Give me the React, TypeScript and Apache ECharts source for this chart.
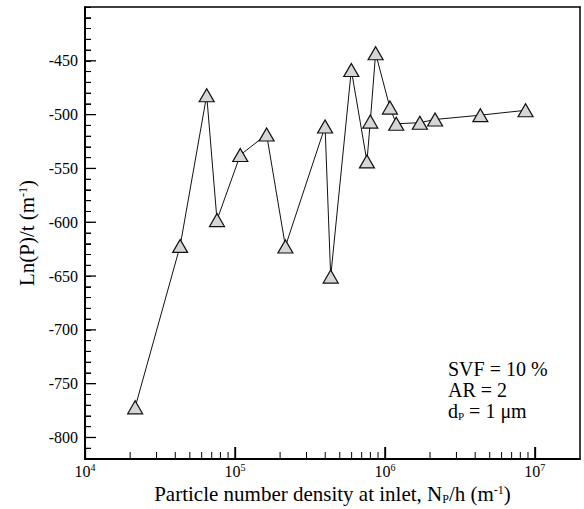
import React, { useEffect, useRef } from "react";
import * as echarts from "echarts";

const xValues = [2.16e4, 4.31e4, 6.48e4, 7.59e4, 1.085e5, 1.626e5, 2.17e5, 3.99e5, 4.35e5, 5.97e5, 7.59e5, 7.99e5, 8.67e5, 1.08e6, 1.19e6, 1.71e6, 2.16e6, 4.33e6, 8.67e6];
const yValues = [-772, -622, -482, -598, -537.5, -518.5, -622.5, -511, -650.5, -458.5, -543.5, -506.5, -443, -493.5, -508.5, -507.5, -504.5, -500.5, -496];
const yMajorTicks = [-800, -750, -700, -650, -600, -550, -500, -450];
const yMinorTicks = [-810, -790, -780, -770, -760, -740, -730, -720, -710, -690, -680, -670, -660, -640, -630, -620, -610, -590, -580, -570, -560, -540, -530, -520, -510, -490, -480, -470, -460, -440, -430, -420, -410];
const xMajorTicks = [1e4, 1e5, 1e6, 1e7];
const xMinorTicks = [2e4, 3e4, 4e4, 5e4, 6e4, 7e4, 8e4, 9e4, 2e5, 3e5, 4e5, 5e5, 6e5, 7e5, 8e5, 9e5, 2e6, 3e6, 4e6, 5e6, 6e6, 7e6, 8e6, 9e6];
const annotationText = "SVF = 10 %\nAR = 2\nd{sub|P} = 1 μm";
const xTitle = "Particle number density at inlet, N{sub|P}/h (m{sup|-1})";
const yTitle = "Ln(P)/t (m{sup|-1})";

const X_MIN = 1e4;
const X_MAX = 2e7;
const Y_MIN = -820;
const Y_MAX = -400;
const GRID_LEFT = 85;
const GRID_TOP = 7;
const GRID_W = 495;
const GRID_H = 452;
const FONT = "Liberation Serif";

// tick lengths in pixels, converted to data units of the fixed axes
const yUnitsPerPx = (Y_MAX - Y_MIN) / GRID_H;
const logDecadesPerPx = Math.log10(X_MAX / X_MIN) / GRID_W;

const tickLine = (pts: number[][], width: number) => ({
  type: "line",
  data: pts,
  xAxisIndex: 0,
  yAxisIndex: 0,
  symbol: "none",
  showSymbol: false,
  clip: false,
  silent: true,
  z: 6,
  lineStyle: { color: "#000", width },
  emphasis: { disabled: true },
  tooltip: { show: false },
});

export default function App() {
  const ref = useRef<HTMLDivElement>(null);
  useEffect(() => {
    if (!ref.current) return;
    const chart = echarts.init(ref.current, null, { renderer: "svg" });
    const data = xValues.map((x, i) => [x, yValues[i]]);
    const tickSeries: any[] = [];
    xMajorTicks.forEach((v) => tickSeries.push(tickLine([[v, Y_MIN], [v, Y_MIN + 12 * yUnitsPerPx]], 1.3)));
    xMinorTicks.forEach((v) => tickSeries.push(tickLine([[v, Y_MIN], [v, Y_MIN + 7 * yUnitsPerPx]], 1)));
    yMajorTicks.forEach((v) => tickSeries.push(tickLine([[X_MIN, v], [X_MIN * Math.pow(10, 11 * logDecadesPerPx), v]], 1.3)));
    yMinorTicks.forEach((v) => tickSeries.push(tickLine([[X_MIN, v], [X_MIN * Math.pow(10, 6 * logDecadesPerPx), v]], 1)));
    const supRich = {
      base: { fontFamily: FONT, fontSize: 16, color: "#000" },
      sup: { fontFamily: FONT, fontSize: 10, color: "#000", verticalAlign: "top", padding: [0, 0, 8, 0] },
    };
    const frameAxis = { show: true, onZero: false, lineStyle: { color: "#000", width: 1.5 } };
    chart.setOption({
      animation: false,
      tooltip: { show: false },
      title: {
        text: annotationText,
        left: 448,
        top: 358,
        padding: 0,
        textStyle: {
          fontFamily: FONT,
          fontSize: 20,
          fontWeight: "normal",
          color: "#000",
          lineHeight: 21,
          rich: { sub: { fontFamily: FONT, fontSize: 11, color: "#000", verticalAlign: "bottom", lineHeight: 21, padding: [9, 0, 0, 0] } },
        },
      },
      grid: { left: GRID_LEFT, top: GRID_TOP, width: GRID_W, height: GRID_H, outerBoundsMode: "none", containLabel: false, show: false },
      xAxis: [
        {
          type: "log",
          min: X_MIN,
          max: X_MAX,
          logBase: 10,
          position: "bottom",
          axisLine: { show: true, onZero: false, lineStyle: { color: "#000", width: 2 } },
          axisTick: { show: true, inside: true, length: 12, lineStyle: { color: "#000", width: 1.3 } },
          axisLabel: {
            margin: 3,
            showMaxLabel: false,
            formatter: (v: number) => {
              const e = Math.log10(v);
              return Math.abs(e - Math.round(e)) < 1e-6 ? `{base|10}{sup|${Math.round(e)}}` : "";
            },
            rich: supRich,
          },
          splitLine: { show: false },
          name: xTitle,
          nameLocation: "middle",
          nameGap: 20,
          nameTextStyle: {
            fontFamily: FONT,
            fontSize: 21,
            color: "#000",
            rich: {
              sub: { fontFamily: FONT, fontSize: 12, verticalAlign: "bottom", padding: [8, 0, 0, 0] },
              sup: { fontFamily: FONT, fontSize: 12, verticalAlign: "top", padding: [0, 0, 9, 0] },
            },
          },
        },
        {
          type: "log",
          min: X_MIN,
          max: X_MAX,
          position: "top",
          axisLine: frameAxis,
          axisTick: { show: false },
          axisLabel: { show: false },
          splitLine: { show: false },
        },
      ],
      yAxis: [
        {
          type: "value",
          min: Y_MIN,
          max: Y_MAX,
          interval: 10,
          position: "left",
          axisLine: { show: true, onZero: false, lineStyle: { color: "#000", width: 2 } },
          axisTick: { show: true, inside: true, length: 6, lineStyle: { color: "#000", width: 1 } },
          axisLabel: {
            fontFamily: FONT,
            fontSize: 16,
            color: "#000",
            margin: 7,
            formatter: (v: number) => (yMajorTicks.indexOf(v) >= 0 ? String(v) : ""),
          },
          splitLine: { show: false },
          name: yTitle,
          nameLocation: "middle",
          nameRotate: 90,
          nameGap: 47,
          nameTextStyle: {
            fontFamily: FONT,
            fontSize: 21,
            color: "#000",
            rich: { sup: { fontFamily: FONT, fontSize: 12, verticalAlign: "top", padding: [0, 0, 9, 0] } },
          },
        },
        {
          type: "value",
          min: Y_MIN,
          max: Y_MAX,
          position: "right",
          axisLine: frameAxis,
          axisTick: { show: false },
          axisLabel: { show: false },
          splitLine: { show: false },
        },
      ],
      series: [
        ...tickSeries,
        {
          type: "line",
          data,
          xAxisIndex: 0,
          yAxisIndex: 0,
          z: 3,
          symbol: "triangle",
          symbolSize: [15, 13],
          lineStyle: { color: "#111", width: 1 },
          itemStyle: { color: "#d6d6d6", borderColor: "#111", borderWidth: 1.2 },
        },
      ],
    });
    return () => chart.dispose();
  }, []);
  return <div ref={ref} style={{ position: "absolute", left: 0, top: 0, width: 584, height: 509, background: "#fff" }} />;
}
